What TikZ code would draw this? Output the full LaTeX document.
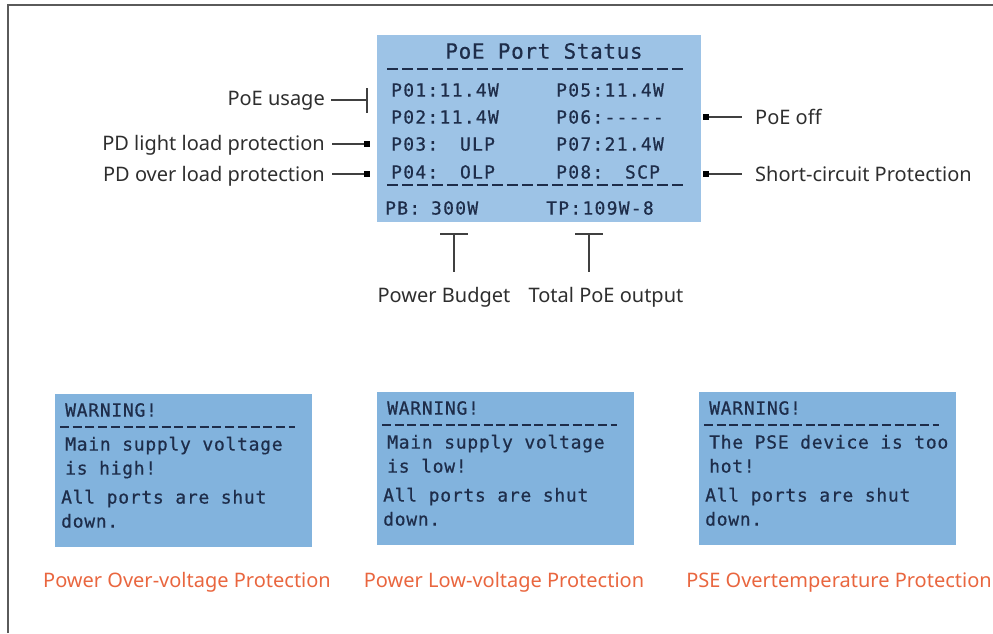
\documentclass[tikz,border=0pt]{standalone}
\usepackage{fontspec}
\newfontfamily\lcdrow[Ligatures=TeXOff,LetterSpace=7,FakeBold=0.6]{DejaVu Sans Mono}
\newfontfamily\lcdttl[Ligatures=TeXOff,LetterSpace=3,FakeBold=0.6]{DejaVu Sans Mono}
\newfontfamily\lcdwrn[Ligatures=TeXOff,LetterSpace=4,FakeBold=0.6]{DejaVu Sans Mono}
\newfontfamily\labfont{Noto Sans}
\definecolor{lcdmain}{HTML}{9DC3E6}
\definecolor{lcdwarnbg}{HTML}{82B3DD}
\definecolor{lcdtext}{HTML}{1E2D4A}
\definecolor{labtext}{HTML}{2E2E2E}
\definecolor{linegray}{HTML}{404040}
\definecolor{framegray}{HTML}{5A5A5A}
\definecolor{capcol}{HTML}{E9663F}
\newcommand{\csp}{\phantom{0}}
\tikzset{
  framel/.style={draw=framegray,line width=2pt},
  mainbox/.style={fill=lcdmain,draw=none},
  warnbox/.style={fill=lcdwarnbg,draw=none},
  rowtxt/.style={font={\lcdrow\fontsize{18}{20}\selectfont},text=lcdtext,inner sep=0pt,anchor=west,text height=13.1pt,text depth=0pt},
  ttltxt/.style={font={\lcdttl\fontsize{21}{23}\selectfont},text=lcdtext,inner sep=0pt,text height=15.3pt,text depth=0pt},
  wrntxt/.style={font={\lcdwrn\fontsize{18}{20}\selectfont},text=lcdtext,inner sep=0pt,anchor=west,text height=13.1pt,text depth=0pt},
  lcddash/.style={draw=lcdtext,line width=2.8pt,dash pattern=on 11pt off 4pt},
  wrndash/.style={draw=lcdtext,line width=2pt,dash pattern=on 9pt off 3.7pt},
  lab/.style={font={\labfont\fontsize{20}{22}\selectfont},text=labtext,inner sep=0pt,text height=14.3pt,text depth=0pt},
  capt/.style={font={\labfont\fontsize{20}{22}\selectfont},text=capcol,inner sep=0pt,text height=14.3pt,text depth=0pt},
  conn/.style={draw=linegray,line width=1.3pt},
  sq/.style={rectangle,fill=black,inner sep=0pt,minimum size=5.5pt},
}
\begin{document}
\begin{tikzpicture}[x=1pt,y=-1pt]
\useasboundingbox (0,0) rectangle (993,633);
% frame
\draw[framel] (7.5,633) -- (7.5,4.5) -- (993,4.5);
% main status box
\fill[mainbox] (377,35) rectangle (701,222);
\node[ttltxt] (title) at (544,51) {PoE Port Status};
\draw[lcddash] (387,69) -- (684,69);
\node[rowtxt] (p1) at (391,90) {P01:11.4W};
\node[rowtxt] (p2) at (391,117) {P02:11.4W};
\node[rowtxt] (p3) at (391,144) {P03:\csp\csp ULP};
\node[rowtxt] (p4) at (391,172) {P04:\csp\csp OLP};
\node[rowtxt] (p5) at (556,90) {P05:11.4W};
\node[rowtxt] (p6) at (556,117) {P06:-----};
\node[rowtxt] (p7) at (556,144) {P07:21.4W};
\node[rowtxt] (p8) at (556,172) {P08:\csp\csp SCP};
\draw[lcddash] (387,185) -- (684,185);
\node[rowtxt] (pb) at (385,208) {PB:\csp 300W};
\node[rowtxt] (tp) at (546,208) {TP:109W-8};
% left annotations
\node[lab,anchor=east] (lusage) at (325,98) {PoE usage};
\node[lab,anchor=east] (llight) at (325,143) {PD light load protection};
\node[lab,anchor=east] (lover) at (325,174) {PD over load protection};
\coordinate (tickc) at (367,100);
\draw[conn] (tickc |- 0,88) -- (tickc |- 0,113);
\draw[conn] ([xshift=6pt]lusage.east |- tickc) -- (tickc);
\node[sq] (sqlight) at (367,144) {};
\node[sq] (sqover) at (367,174) {};
\draw[conn] ([xshift=7pt]llight.east |- sqlight) -- (sqlight);
\draw[conn] ([xshift=7pt]lover.east |- sqover) -- (sqover);
% right annotations
\node[lab,anchor=west] (loff) at (755,117) {PoE off};
\node[lab,anchor=west] (lscp) at (755,174) {Short-circuit Protection};
\node[sq] (sqoff) at (706,117) {};
\node[sq] (sqscp) at (706,174) {};
\draw[conn] (sqoff) -- ([xshift=-13pt]loff.west |- sqoff);
\draw[conn] (sqscp) -- ([xshift=-13pt]lscp.west |- sqscp);
% bottom annotations
\node[lab] (lpb) at (444,295) {Power Budget};
\node[lab] (ltp) at (606,295) {Total PoE output};
\coordinate (tpb) at (454,234);
\coordinate (ttp) at (589,234);
\draw[conn] ([xshift=-14pt]tpb) -- ([xshift=14pt]tpb);
\draw[conn] (tpb) -- (tpb |- 0,272);
\draw[conn] ([xshift=-14pt]ttp) -- ([xshift=14pt]ttp);
\draw[conn] (ttp) -- (ttp |- 0,272);
% warning boxes
\foreach \bx/\by/\nm/\la/\lb/\cap/\cx in {
  55/394/w1/{Main supply voltage}/{is high!}/{Power Over-voltage Protection}/187,
  377/392/w2/{Main supply voltage}/{is low!}/{Power Low-voltage Protection}/504,
  699/392/w3/{The PSE device is too}/{hot!}/{PSE Overtemperature Protection}/839}{
  \begin{scope}[shift={(\bx,\by)}]
    \fill[warnbox] (0,0) rectangle (257,153);
    \node[wrntxt] (\nm h) at (10,16) {WARNING!};
    \draw[wrndash] (5,33) -- (240,33);
    \node[wrntxt] (\nm a) at (10,50) {\la};
    \node[wrntxt] (\nm b) at (10,74) {\lb};
    \node[wrntxt] (\nm c) at (6,103) {All ports are shut};
    \node[wrntxt] (\nm d) at (6,127) {down.};
  \end{scope}
  \node[capt] (\nm cap) at (\cx,580) {\cap};
}
\end{tikzpicture}
\end{document}
